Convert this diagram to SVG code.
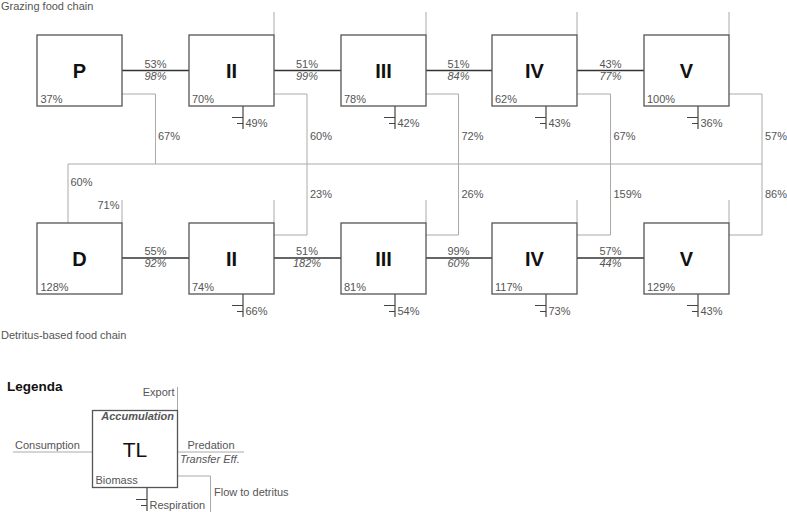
<svg xmlns="http://www.w3.org/2000/svg" width="787" height="512" viewBox="0 0 787 512">
<style>
text{font-family:"Liberation Sans",Arial,sans-serif;font-size:11px;fill:#555}
.big{font-size:20px;font-weight:bold;fill:#111;text-anchor:middle}
.it{font-style:italic}
.mid{text-anchor:middle}
.end{text-anchor:end}
.box{fill:#fff;stroke:#555;stroke-width:1.3}
.link{stroke:#333;stroke-width:1.6;fill:none}
.thin{stroke:#aaa;stroke-width:1;fill:none}
.resp{stroke:#444;stroke-width:1.2;fill:none}
</style>
<defs>
<g id="resp"><path class="resp" d="M0,0V23M-11,11.5H0M-6,17.5H0"/></g>
</defs>
<text x="1" y="10">Grazing food chain</text>
<text x="1" y="338.5">Detritus-based food chain</text>

<g id="connectors">
<!-- top chain links -->
<path class="link" d="M122,70.5H189M274,70.5H341M426,70.5H492M577,70.5H644"/>
<path class="link" d="M122,258H189M274,258H341M426,258H492M577,258H644"/>
<!-- exports -->
<path class="thin" d="M274,12V35M426,12V35M577,12V35M729,12V35"/>
<path class="thin" d="M122,200V223M274,200V223M426,200V223M577,200V223M729,200V223"/>
<!-- detritus flows -->
<path class="thin" d="M122,94H155.5V164M274,94H307V164M426,94H458.5V164M577,94H610.5V164M729,94H762V164"/>
<path class="thin" d="M68,223V164H762M274,235H307V164M426,235H458.5V164M577,235H610.5V164M729,235H762V164"/>
<!-- respiration -->
<use href="#resp" x="243" y="106"/>
<use href="#resp" x="395" y="106"/>
<use href="#resp" x="546" y="106"/>
<use href="#resp" x="698" y="106"/>
<use href="#resp" x="243" y="294"/>
<use href="#resp" x="395" y="294"/>
<use href="#resp" x="546" y="294"/>
<use href="#resp" x="698" y="294"/>
<!-- link labels -->
<text class="mid" x="155.5" y="67.5">53%</text><text class="mid it" x="155.5" y="79.5">98%</text>
<text class="mid" x="307" y="67.5">51%</text><text class="mid it" x="307" y="79.5">99%</text>
<text class="mid" x="458.5" y="67.5">51%</text><text class="mid it" x="458.5" y="79.5">84%</text>
<text class="mid" x="610.5" y="67.5">43%</text><text class="mid it" x="610.5" y="79.5">77%</text>
<text class="mid" x="155.5" y="255">55%</text><text class="mid it" x="155.5" y="267">92%</text>
<text class="mid" x="307" y="255">51%</text><text class="mid it" x="307" y="267">182%</text>
<text class="mid" x="458.5" y="255">99%</text><text class="mid it" x="458.5" y="267">60%</text>
<text class="mid" x="610.5" y="255">57%</text><text class="mid it" x="610.5" y="267">44%</text>
<!-- detritus labels -->
<text x="158" y="139.5">67%</text>
<text x="310" y="139.5">60%</text>
<text x="461.5" y="139.5">72%</text>
<text x="613.5" y="139.5">67%</text>
<text x="765" y="139.5">57%</text>
<text x="70.5" y="186">60%</text>
<text x="310" y="197.5">23%</text>
<text x="461.5" y="197.5">26%</text>
<text x="613.5" y="197.5">159%</text>
<text x="765" y="197.5">86%</text>
<text class="end" x="119.5" y="209">71%</text>
<!-- respiration labels -->
<text x="245.5" y="127">49%</text>
<text x="397.5" y="127">42%</text>
<text x="548.5" y="127">43%</text>
<text x="700.5" y="127">36%</text>
<text x="245.5" y="315">66%</text>
<text x="397.5" y="315">54%</text>
<text x="548.5" y="315">73%</text>
<text x="700.5" y="315">43%</text>
</g>

<g id="P"><rect class="box" x="37" y="35" width="85" height="71"/><text class="big" x="79.5" y="77.5">P</text><text x="40.5" y="103">37%</text></g>
<g id="II-top"><rect class="box" x="189" y="35" width="85" height="71"/><text class="big" x="231.5" y="77.5">II</text><text x="192" y="103">70%</text></g>
<g id="III-top"><rect class="box" x="341" y="35" width="85" height="71"/><text class="big" x="383.5" y="77.5">III</text><text x="344" y="103">78%</text></g>
<g id="IV-top"><rect class="box" x="492" y="35" width="85" height="71"/><text class="big" x="534.5" y="77.5">IV</text><text x="495" y="103">62%</text></g>
<g id="V-top"><rect class="box" x="644" y="35" width="85" height="71"/><text class="big" x="686.5" y="77.5">V</text><text x="647" y="103">100%</text></g>

<g id="D"><rect class="box" x="37" y="223" width="85" height="71"/><text class="big" x="79.5" y="265.5">D</text><text x="40.5" y="291">128%</text></g>
<g id="II-bot"><rect class="box" x="189" y="223" width="85" height="71"/><text class="big" x="231.5" y="265.5">II</text><text x="192" y="291">74%</text></g>
<g id="III-bot"><rect class="box" x="341" y="223" width="85" height="71"/><text class="big" x="383.5" y="265.5">III</text><text x="344" y="291">81%</text></g>
<g id="IV-bot"><rect class="box" x="492" y="223" width="85" height="71"/><text class="big" x="534.5" y="265.5">IV</text><text x="495" y="291">117%</text></g>
<g id="V-bot"><rect class="box" x="644" y="223" width="85" height="71"/><text class="big" x="686.5" y="265.5">V</text><text x="647" y="291">129%</text></g>

<g id="legend">
<text x="7" y="391" style="font-size:13.5px;font-weight:bold;fill:#111">Legenda</text>
<path class="thin" d="M177.5,387V410M13,452H92.5M177.5,452H244M177.5,476H210.5V512"/>
<use href="#resp" x="147" y="488"/>
<rect class="box" x="92.5" y="410.5" width="85" height="77"/>
<text class="end" x="174.5" y="396">Export</text>
<text class="end it" x="174" y="420" style="font-weight:bold">Accumulation</text>
<text x="135" y="456.5" style="font-size:21px;fill:#111;text-anchor:middle">TL</text>
<text x="15" y="448.5">Consumption</text>
<text class="mid" x="211" y="449">Predation</text>
<text class="it" x="180" y="462.5">Transfer Eff.</text>
<text x="95.5" y="483.5">Biomass</text>
<text x="214" y="496">Flow to detritus</text>
<text x="149.5" y="508.5">Respiration</text>
</g>
</svg>
